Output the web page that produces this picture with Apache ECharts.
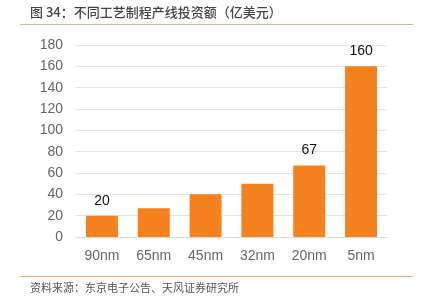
<!DOCTYPE html>
<html><head><meta charset="utf-8">
<script src="https://cdn.jsdelivr.net/npm/echarts@6/dist/echarts.min.js"></script>
<style>html,body{margin:0;padding:0;background:#fff}#c{width:424px;height:297px}</style>
</head><body><div id="c"></div>
<script>
const categories = ['90nm','65nm','45nm','32nm','20nm','5nm'];
const values = [20, 27, 40, 50, 67, 160];
const labeledIdx = [0, 4, 5];
const titleText = '图 34：不同工艺制程产线投资额（亿美元）';
const sourceText = '资料来源：东京电子公告、天风证券研究所';

const chart = echarts.init(document.getElementById('c'), null, {renderer:'canvas'});
chart.setOption({
  animation: false,
  grid: {left: 76, right: 37, top: 45, bottom: 60},
  xAxis: {
    type: 'category', data: categories,
    axisLine: {show: true, lineStyle: {color: '#d9d9d9'}},
    axisTick: {show: false},
    axisLabel: {color: '#666', fontSize: 14, margin: 12, fontFamily: 'Liberation Sans, Arial'}
  },
  yAxis: {
    type: 'value', min: 0, max: 180, interval: 20,
    axisLine: {show: false}, axisTick: {show: false},
    splitLine: {lineStyle: {color: '#e3e3e3'}},
    axisLabel: {color: '#666', fontSize: 14, margin: 13, fontFamily: 'Liberation Sans, Arial'}
  },
  series: [{
    type: 'bar', barWidth: 32,
    data: values.map((v, i) => ({
      value: v,
      label: {show: labeledIdx.includes(i)}
    })),
    itemStyle: {color: '#F5821F'},
    label: {position: 'top', color: '#111', fontSize: 14, distance: 8, fontFamily: 'Liberation Sans, Arial'}
  }],
  graphic: [
    {type: 'text', left: 30, top: 6, style: {text: titleText, fill: '#444', font: '500 13px "Noto Sans CJK SC"'}},
    {type: 'line', shape: {x1: 20, y1: 24.5, x2: 413, y2: 24.5}, style: {stroke: '#F7AD74', lineWidth: 1.2}},
    {type: 'line', shape: {x1: 20, y1: 276.5, x2: 413, y2: 276.5}, style: {stroke: '#F7AD74', lineWidth: 1.2}},
    {type: 'text', left: 30, top: 282, style: {text: sourceText, fill: '#555', font: '11px "Noto Sans CJK SC"'}}
  ]
});
</script></body></html>
